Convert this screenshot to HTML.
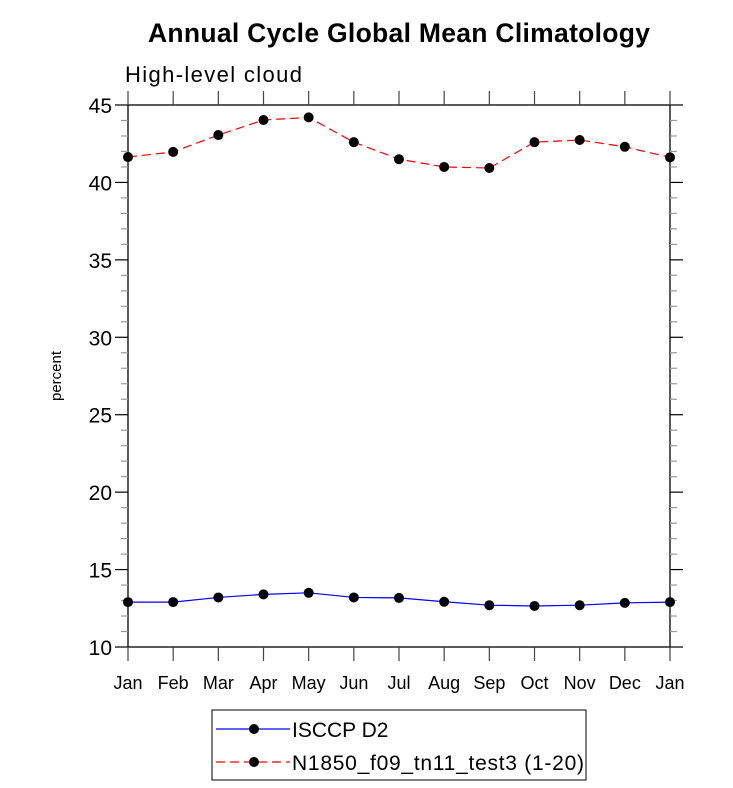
<!DOCTYPE html>
<html><head><meta charset="utf-8"><style>body{margin:0;background:#fff}svg{display:block;font-family:"Liberation Sans",sans-serif}</style></head>
<body>
<svg id="chart" width="733" height="788">
<text x="399" y="42" text-anchor="middle" font-size="26.5" font-weight="bold" textLength="502">Annual Cycle Global Mean Climatology</text>
<text x="125" y="82" font-size="22" textLength="177">High-level cloud</text>
<text transform="translate(61,376) rotate(-90)" text-anchor="middle" font-size="15">percent</text>
<g id="axes"></g><g id="series"></g>
<g>
<rect x="212" y="710" width="374" height="70" fill="#fff" stroke="#000" stroke-width="1"/>
<g>
<line x1="216" y1="729" x2="290" y2="729" stroke="#00f" stroke-width="1.2"/>
<circle cx="254" cy="729" r="5" fill="#000"/>
<text x="292" y="737" font-size="21">ISCCP D2</text></g>
<g>
<line x1="216" y1="762" x2="290" y2="762" stroke="#f00" stroke-width="1.2" stroke-dasharray="9,5"/>
<circle cx="254" cy="762" r="5" fill="#000"/>
<text x="292" y="770" font-size="21" textLength="292">N1850_f09_tn11_test3 (1-20)</text></g>
</g>
</svg>
<script>
const months=["Jan","Feb","Mar","Apr","May","Jun","Jul","Aug","Sep","Oct","Nov","Dec","Jan"];
const yTicks=[10,15,20,25,30,35,40,45];
const obsValues=[12.9,12.9,13.2,13.4,13.5,13.2,13.17,12.92,12.7,12.65,12.7,12.85,12.9];
const modelValues=[41.64,41.97,43.06,44.03,44.2,42.6,41.5,41.0,40.93,42.6,42.74,42.3,41.62];
const L=128,R=670,T=105,B=647,ymin=10,ymax=45;
const xs=i=>L+(R-L)*i/(months.length-1);
const ys=v=>B-(v-ymin)/(ymax-ymin)*(B-T);
const NS="http://www.w3.org/2000/svg";
function mk(tag,at,parent){const e=document.createElementNS(NS,tag);for(const k in at)e.setAttribute(k,at[k]);parent.appendChild(e);return e;}
const ax=document.getElementById('axes');
const frame=mk('rect',{x:L,y:T,width:R-L,height:B-T,fill:'none',stroke:'#000','stroke-width':1.3},ax);


for(let v=ymin;v<=ymax;v++){
  const y=ys(v),maj=v%5===0,c=maj?'#000':'#999',len=maj?13:7;
  mk('line',{x1:L-len,y1:y,x2:L,y2:y,stroke:c,'stroke-width':1.2},ax);
  mk('line',{x1:R,y1:y,x2:R+len,y2:y,stroke:c,'stroke-width':1.2},ax);
}
yTicks.forEach(v=>{const t=mk('text',{x:L-16,y:ys(v)+8,'text-anchor':'end','font-size':21},ax);t.textContent=v;

});
months.forEach((m,i)=>{const x=xs(i);
  mk('line',{x1:x,y1:B,x2:x,y2:B+14,stroke:'#444','stroke-width':1.2},ax);
  mk('line',{x1:x,y1:T-14,x2:x,y2:T,stroke:'#444','stroke-width':1.2},ax);
  const t=mk('text',{x:x,y:B+42,'text-anchor':'middle','font-size':18},ax);t.textContent=m;
  
  });
const sg=document.getElementById('series');
function series(vals,color,dash,name){
  const g=mk('g',{},sg);
  
  
  const at={points:vals.map((v,i)=>xs(i)+','+ys(v)).join(' '),fill:'none',stroke:color,'stroke-width':1.2};
  if(dash)at['stroke-dasharray']=dash;
  mk('polyline',at,g);
  vals.forEach((v,i)=>{const c=mk('circle',{cx:xs(i),cy:ys(v),r:5,fill:'#000'},g);
    
    });
}
series(obsValues,'#00f',null,'isccp-series');
series(modelValues,'#f00','9,5','model-series');
</script>
</body></html>
